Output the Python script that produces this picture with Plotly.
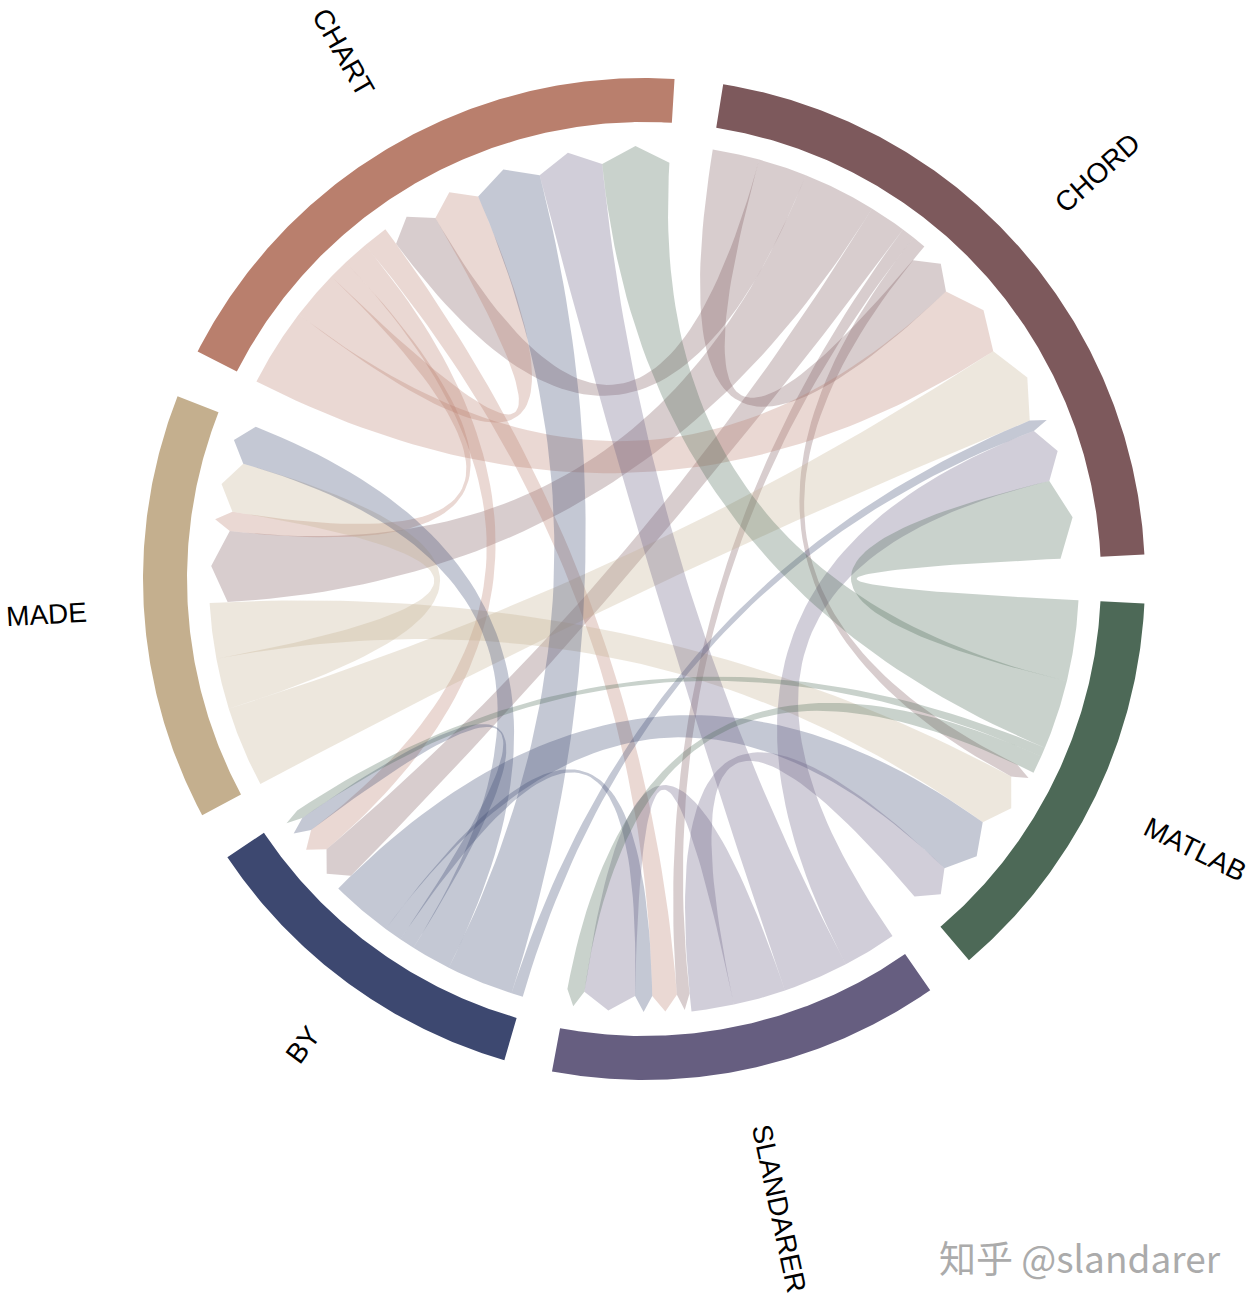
import numpy as np
import plotly.graph_objects as go

# ---------------- data ----------------
names = ["CHORD", "CHART", "MADE", "BY", "SLANDARER", "MATLAB"]
# flows from each source node to targets, in the order of `names`
from_chord = [6.1, 6.3, 9.5, 4.8, 1.7, 1.8]
from_chart = [10.2, 6.4, 2.6, 3.3, 3.3, 0.0]
from_made = [10.5, 0.0, 6.6, 0.0, 0.0, 7.2]
from_by = [1.5, 8.7, 5.2, 2.0, 2.3, 8.0]
from_slandarer = [7.0, 8.5, 0.0, 0.0, 6.8, 5.5]
from_matlab = [10.5, 9.0, 0.0, 1.2, 2.3, 0.0]

node_colors = ["#7D595C", "#B97F6D", "#C4AF8E", "#3D4870", "#665E80", "#4D6957"]

flows = np.array([from_chord, from_chart, from_made, from_by, from_slandarer, from_matlab])
n = len(names)

# ---------------- geometry ----------------
GAP = 5.6          # degrees between nodes
R_OUT, R_IN = 501, 457
R_CH = 435         # flat chord ends
R_SH, R_TIP = 417, 433  # arrow shoulders / tip
R_LAB = 558
ALPHA = 0.30

out_tot = flows.sum(axis=1)
in_tot = flows.sum(axis=0)
node_tot = out_tot + in_tot
scale = (360.0 - n * GAP) / node_tot.sum()

starts, ends = [], []
a = GAP / 2
for i in range(n):
    starts.append(a)
    a += node_tot[i] * scale
    ends.append(a)
    a += GAP

seg_out, seg_in = {}, {}
for i in range(n):
    pos = ends[i]
    for j in range(n):
        w = flows[i, j] * scale
        if w > 0:
            seg_out[(i, j)] = (pos, pos - w)
        pos -= w
    for j in range(n):
        w = flows[j, i] * scale
        if w > 0:
            seg_in[(j, i)] = (pos, pos - w)
        pos -= w


def pt(theta, r):
    t = np.deg2rad(theta)
    return r * np.cos(t), r * np.sin(t)


def arc(t1, t2, r, k=3):
    m = max(2, int(abs(t1 - t2) * k) + 2)
    t = np.deg2rad(np.linspace(t1, t2, m))
    return list(r * np.cos(t)), list(r * np.sin(t))


def bez(p0, p2, m=60):
    s = np.linspace(0, 1, m)
    x = (1 - s) ** 2 * p0[0] + s ** 2 * p2[0]
    y = (1 - s) ** 2 * p0[1] + s ** 2 * p2[1]
    return list(x), list(y)


def rgba(hexc, al):
    h = hexc.lstrip("#")
    r, g, b = int(h[0:2], 16), int(h[2:4], 16), int(h[4:6], 16)
    return f"rgba({r},{g},{b},{al})"


fig = go.Figure()

# chords
for (i, j), (a1, a2) in seg_out.items():
    b1, b2 = seg_in[(i, j)]
    xs, ys = arc(a1, a2, R_CH)
    bx, by = bez(pt(a2, R_CH), pt(b1, R_SH))
    xs += bx; ys += by
    tx, ty = pt((b1 + b2) / 2, R_TIP)
    xs.append(tx); ys.append(ty)
    bx, by = bez(pt(b2, R_SH), pt(a1, R_CH))
    xs += bx; ys += by
    fig.add_trace(go.Scatter(
        x=xs, y=ys, mode="lines", fill="toself",
        fillcolor=rgba(node_colors[i], ALPHA),
        line=dict(width=0, color="rgba(0,0,0,0)"),
        hoverinfo="skip", showlegend=False))

# node arcs
for i in range(n):
    ox, oy = arc(starts[i], ends[i], R_OUT)
    ix, iy = arc(ends[i], starts[i], R_IN)
    fig.add_trace(go.Scatter(
        x=ox + ix + [ox[0]], y=oy + iy + [oy[0]], mode="lines", fill="toself",
        fillcolor=node_colors[i], line=dict(width=0, color=node_colors[i]),
        hoverinfo="skip", showlegend=False))

# labels (radial, starting at R_LAB)
adv = {"A": 667, "B": 667, "C": 722, "D": 722, "E": 667, "H": 722, "L": 556,
       "M": 833, "N": 722, "O": 778, "R": 722, "S": 667, "T": 611, "Y": 667}
FS = 28
for i in range(n):
    th = (starts[i] + ends[i]) / 2
    w = sum(adv.get(c, 667) for c in names[i]) / 1000 * FS
    cx, cy = pt(th, R_LAB + w / 2)
    thn = th % 360
    if 90 < thn < 270:
        ang = 180 - thn
    else:
        ang = -thn if thn <= 90 else 360 - thn
    fig.add_annotation(x=cx, y=cy, text=names[i], showarrow=False,
                       textangle=ang, xanchor="center", yanchor="middle",
                       font=dict(family="Liberation Sans, Arial", size=FS, color="black"))

# watermark
fig.add_annotation(x=436, y=-678, text="知乎 @slandarer", showarrow=False,
                   xanchor="center", yanchor="middle",
                   font=dict(family="Noto Sans CJK SC", size=37, color="#ABABAB"))

W, H = 1251, 1305
CX, CY = 644, 579
fig.update_layout(
    width=W, height=H, margin=dict(l=0, r=0, t=0, b=0),
    paper_bgcolor="white", plot_bgcolor="white",
    xaxis=dict(range=[-CX, W - CX], visible=False, fixedrange=True),
    yaxis=dict(range=[-(H - CY), CY], visible=False, fixedrange=True),
)

fig.write_html("out.html", config={"displayModeBar": False},
               post_script="document.body.style.margin='0px';")
